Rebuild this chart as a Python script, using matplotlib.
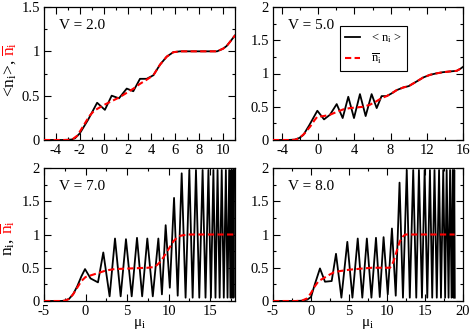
import matplotlib
matplotlib.use('Agg')
import matplotlib.pyplot as plt
from matplotlib.ticker import MultipleLocator, FuncFormatter
from matplotlib.lines import Line2D

plt.rcParams['font.family'] = ['Liberation Serif', 'DejaVu Serif']
plt.rcParams['mathtext.fontset'] = 'custom'
plt.rcParams['mathtext.rm'] = 'Liberation Serif'
plt.rcParams['mathtext.it'] = 'Liberation Serif:italic'
plt.rcParams['axes.unicode_minus'] = False

RED = '#ff0000'

# ---- V = 2.0 ----
x_v2 = [-5, -3.5, -2.7, -2.4, -2.0, -1.3, -0.55, 0.1, 0.67, 1.28, 1.93, 2.48, 3.04, 3.6,
        4.16, 4.72, 5.28, 5.83, 6.4, 7.0, 8.0, 9.0, 9.5, 10.0, 10.3, 10.6, 11.0]
n_v2 = [0, 0, 0.005, 0.02, 0.075, 0.23, 0.42, 0.34, 0.5, 0.47, 0.58, 0.55, 0.69, 0.69,
        0.73, 0.85, 0.94, 0.99, 1.0, 1.0, 1.0, 1.0, 1.0, 1.03, 1.06, 1.11, 1.18]
xr_v2 = [-5, -3, -2.6, -2.2, -1.7, -1.2, -0.8, -0.3, 0.1, 0.7, 1.3, 1.9, 2.5, 3.0, 3.6,
         4.16, 4.72, 5.28, 5.83, 6.4, 7.0, 8.0, 9.0, 9.5, 10.0, 10.3, 10.6, 11.0]
nr_v2 = [0, 0, 0.01, 0.05, 0.16, 0.27, 0.33, 0.37, 0.4, 0.44, 0.48, 0.53, 0.58, 0.63, 0.68,
         0.73, 0.85, 0.94, 0.99, 1.0, 1.0, 1.0, 1.0, 1.0, 1.03, 1.06, 1.11, 1.18]

# ---- V = 5.0 ----
x_v5 = [-5, -3.5, -2.6, -2.1, -1.65, -1.0, -0.1, 0.64, 1.3, 2.04, 2.7, 3.32, 3.95, 4.61,
        5.24, 5.9, 6.46, 7.0, 7.56, 8.1, 8.67, 9.4, 10.0, 10.5, 11.0, 11.6, 12.35, 13.0,
        13.8, 14.5, 15.3, 15.7, 16.0]
n_v5 = [0, 0, 0.005, 0.03, 0.075, 0.22, 0.44, 0.31, 0.38, 0.54, 0.33, 0.65, 0.33, 0.69,
        0.36, 0.69, 0.48, 0.66, 0.66, 0.7, 0.75, 0.79, 0.81, 0.85, 0.89, 0.94, 0.98, 1.0,
        1.02, 1.03, 1.04, 1.07, 1.1]
xr_v5 = [-5, -3, -2.5, -2.0, -1.5, -0.9, -0.4, -0.1, 0.6, 1.3, 2.0, 2.76, 3.5, 4.24, 5.0,
         5.71, 6.4, 7.0, 7.56, 8.1, 8.67, 9.4, 10.0, 10.5, 11.0, 11.6, 12.35, 13.0, 13.8,
         14.5, 15.3, 15.7, 16.0]
nr_v5 = [0, 0, 0.005, 0.04, 0.1, 0.2, 0.3, 0.35, 0.36, 0.38, 0.42, 0.46, 0.48, 0.49, 0.5,
         0.53, 0.58, 0.63, 0.66, 0.7, 0.75, 0.79, 0.81, 0.85, 0.89, 0.94, 0.98, 1.0, 1.02,
         1.03, 1.04, 1.07, 1.1]

# ---- V = 7.0 ----
x_v7 = [-5, -3, -2.5, -2.0, -1.5, -1.0, -0.5, -0.06, 0.6, 1.5, 2.14, 2.9, 3.55, 4.23, 4.87,
        5.56, 6.2, 6.82, 7.44, 8.1, 8.77, 9.2, 9.65, 10.15, 10.66, 11.1, 11.58, 12.05, 12.5,
        12.9, 13.3, 13.7, 14.1, 14.45, 14.8, 15.1, 15.4, 15.65, 15.9, 16.15, 16.4, 16.65,
        16.9, 17.1, 17.3, 17.45, 17.55, 17.65, 17.75, 17.82, 17.9]
n_v7 = [0, 0, 0.005, 0.03, 0.1, 0.22, 0.37, 0.48, 0.34, 0.28, 0.73, 0.07, 0.94, 0.07, 0.93,
        0.07, 0.95, 0.07, 0.94, 0.07, 0.94, 0.1, 1.14, 0.2, 1.55, 0.08, 1.92, 0.05, 1.97,
        0.05, 1.97, 0.05, 1.97, 0.05, 1.97, 0.05, 1.97, 0.05, 1.97, 0.05, 1.97, 0.05,
        1.97, 0.05, 1.97, 0.05, 1.97, 0.05, 1.97, 0.05, 1.97]
xr_v7 = [-5, -3, -2.5, -2.0, -1.5, -1.0, -0.5, 0.0, 0.5, 1.0, 1.5, 2.5, 3.5, 4.5, 5.5, 6.5,
         7.5, 8.2, 8.6, 9.0, 9.4, 9.8, 10.2, 10.6, 11.0, 11.4, 11.8, 12.5, 14.0, 16.0, 17.9]
nr_v7 = [0, 0, 0.005, 0.03, 0.1, 0.2, 0.3, 0.36, 0.38, 0.4, 0.42, 0.46, 0.48, 0.485, 0.49,
         0.495, 0.5, 0.51, 0.54, 0.59, 0.66, 0.74, 0.82, 0.9, 0.95, 0.98, 0.99, 1.0, 1.0,
         1.0, 1.0]

# ---- V = 8.0 ----
x_v8 = [-5, -2, -1.2, -0.5, 0.0, 0.5, 1.18, 1.84, 2.72, 3.29, 4.0, 4.78, 5.45, 6.15, 6.75,
        7.35, 7.95, 8.55, 9.05, 9.55, 10.1, 10.65, 11.15, 11.65, 12.1, 12.6, 13.0, 13.45,
        13.85, 14.2, 14.6, 14.95, 15.3, 15.65, 15.95, 16.25, 16.55, 16.85, 17.1, 17.4,
        17.65, 17.85, 18.1, 18.3, 18.5, 18.65, 18.75, 18.85, 18.92]
n_v8 = [0, 0, 0.005, 0.02, 0.06, 0.25, 0.49, 0.29, 0.3, 0.71, 0.05, 0.89, 0.05, 0.94, 0.05,
        0.94, 0.05, 0.95, 0.06, 0.96, 0.1, 1.09, 0.08, 1.78, 0.05, 1.97, 0.05, 1.97,
        0.05, 1.97, 0.05, 1.97, 0.05, 1.97, 0.05, 1.97, 0.05, 1.97, 0.05, 1.97,
        0.05, 1.97, 0.05, 1.97, 0.05, 1.97, 0.05, 1.97, 0.05]
xr_v8 = [-5, -2, -1.2, -0.5, 0.0, 0.5, 1.0, 1.62, 2.5, 3.0, 3.8, 5.0, 6.9, 8.0, 10.4, 10.8,
         11.1, 11.4, 11.7, 12.1, 12.4, 15.0, 18.9]
nr_v8 = [0, 0, 0.005, 0.04, 0.12, 0.22, 0.3, 0.34, 0.4, 0.43, 0.45, 0.47, 0.49, 0.5, 0.5,
         0.58, 0.68, 0.8, 0.9, 0.97, 1.0, 1.0, 1.0]

panels = [
    ('V = 2.0', x_v2, n_v2, xr_v2, nr_v2, (-5, 11), (0, 1.5), 2, 1),
    ('V = 5.0', x_v5, n_v5, xr_v5, nr_v5, (-5, 16), (0, 2), 4, 2),
    ('V = 7.0', x_v7, n_v7, xr_v7, nr_v7, (-5, 18), (0, 2), 5, 2.5),
    ('V = 8.0', x_v8, n_v8, xr_v8, nr_v8, (-5, 20), (0, 2), 5, 2.5),
]

fig = plt.figure(figsize=(4.71, 3.34), dpi=100)
W, H = 471.0, 334.0
boxes = [(44, 7, 191, 133), (273, 7, 190, 133), (44, 168, 191, 133), (273, 168, 190, 133)]

fmt = FuncFormatter(lambda v, p: '%g' % v)
axes = []
for (label, x, n, xr, nr, xl, yl, xmaj, xmin), (l, t, w, h) in zip(panels, boxes):
    ax = fig.add_axes([l / W, 1 - (t + h) / H, w / W, h / H])
    ax.plot(x, n, color='black', lw=1.3, zorder=2)
    ax.plot(xr, nr, color=RED, lw=1.5, ls=(0, (3, 1.6)), zorder=3)
    ax.set_xlim(*xl)
    ax.set_ylim(*yl)
    ax.xaxis.set_major_locator(MultipleLocator(xmaj))
    ax.xaxis.set_minor_locator(MultipleLocator(xmin))
    ax.yaxis.set_major_locator(MultipleLocator(0.5))
    ax.yaxis.set_minor_locator(MultipleLocator(0.25))
    ax.xaxis.set_major_formatter(fmt)
    ax.yaxis.set_major_formatter(fmt)
    ax.tick_params(which='both', direction='in', top=True, right=True, labelsize=10.5,
                   width=0.8, pad=3)
    ax.tick_params(which='major', length=5)
    ax.tick_params(which='minor', length=2.5)
    for s in ax.spines.values():
        s.set_linewidth(0.9)
    ax.text(0.08, 0.86, label, transform=ax.transAxes, fontsize=11, va='center')
    axes.append(ax)

axes[2].set_xlabel('μ$_\\mathrm{i}$', fontsize=11, labelpad=-1)
axes[3].set_xlabel('μ$_\\mathrm{i}$', fontsize=11, labelpad=-1)

handles = [Line2D([], [], color='black', lw=1.3),
           Line2D([], [], color=RED, lw=1.5, ls=(0, (3, 1.6)))]
leg = axes[1].legend(handles, ['< n$_\\mathrm{i}$ >', '$\\overline{\\mathrm{n}}_\\mathrm{i}$'],
                     loc='upper left', bbox_to_anchor=(0.353, 0.857), fontsize=9,
                     frameon=True, fancybox=False, edgecolor='black', framealpha=1,
                     handlelength=1.2, handletextpad=0.9, labelspacing=0.5,
                     borderpad=0.4, borderaxespad=0)
leg.get_frame().set_linewidth(0.8)

# two-colour y labels
fig.canvas.draw()
r = fig.canvas.get_renderer()
for (xb, yb, black, red) in [(10, 97, '<n$_\\mathrm{i}$>,', '$\\overline{\\mathrm{n}}_\\mathrm{i}$'),
                             (8, 256, 'n$_\\mathrm{i}$,', '$\\overline{\\mathrm{n}}_\\mathrm{i}$')]:
    tb = fig.text(xb / W, 1 - yb / H, black, rotation=90, rotation_mode='anchor',
                  ha='left', va='center', fontsize=12.5, color='black')
    bb = tb.get_window_extent(r)
    fig.text(xb / W, (bb.y1 + 4) / fig.bbox.height, red, rotation=90,
             rotation_mode='anchor', ha='left', va='center', fontsize=12.5, color=RED)

fig.savefig('out.png', dpi=100)
